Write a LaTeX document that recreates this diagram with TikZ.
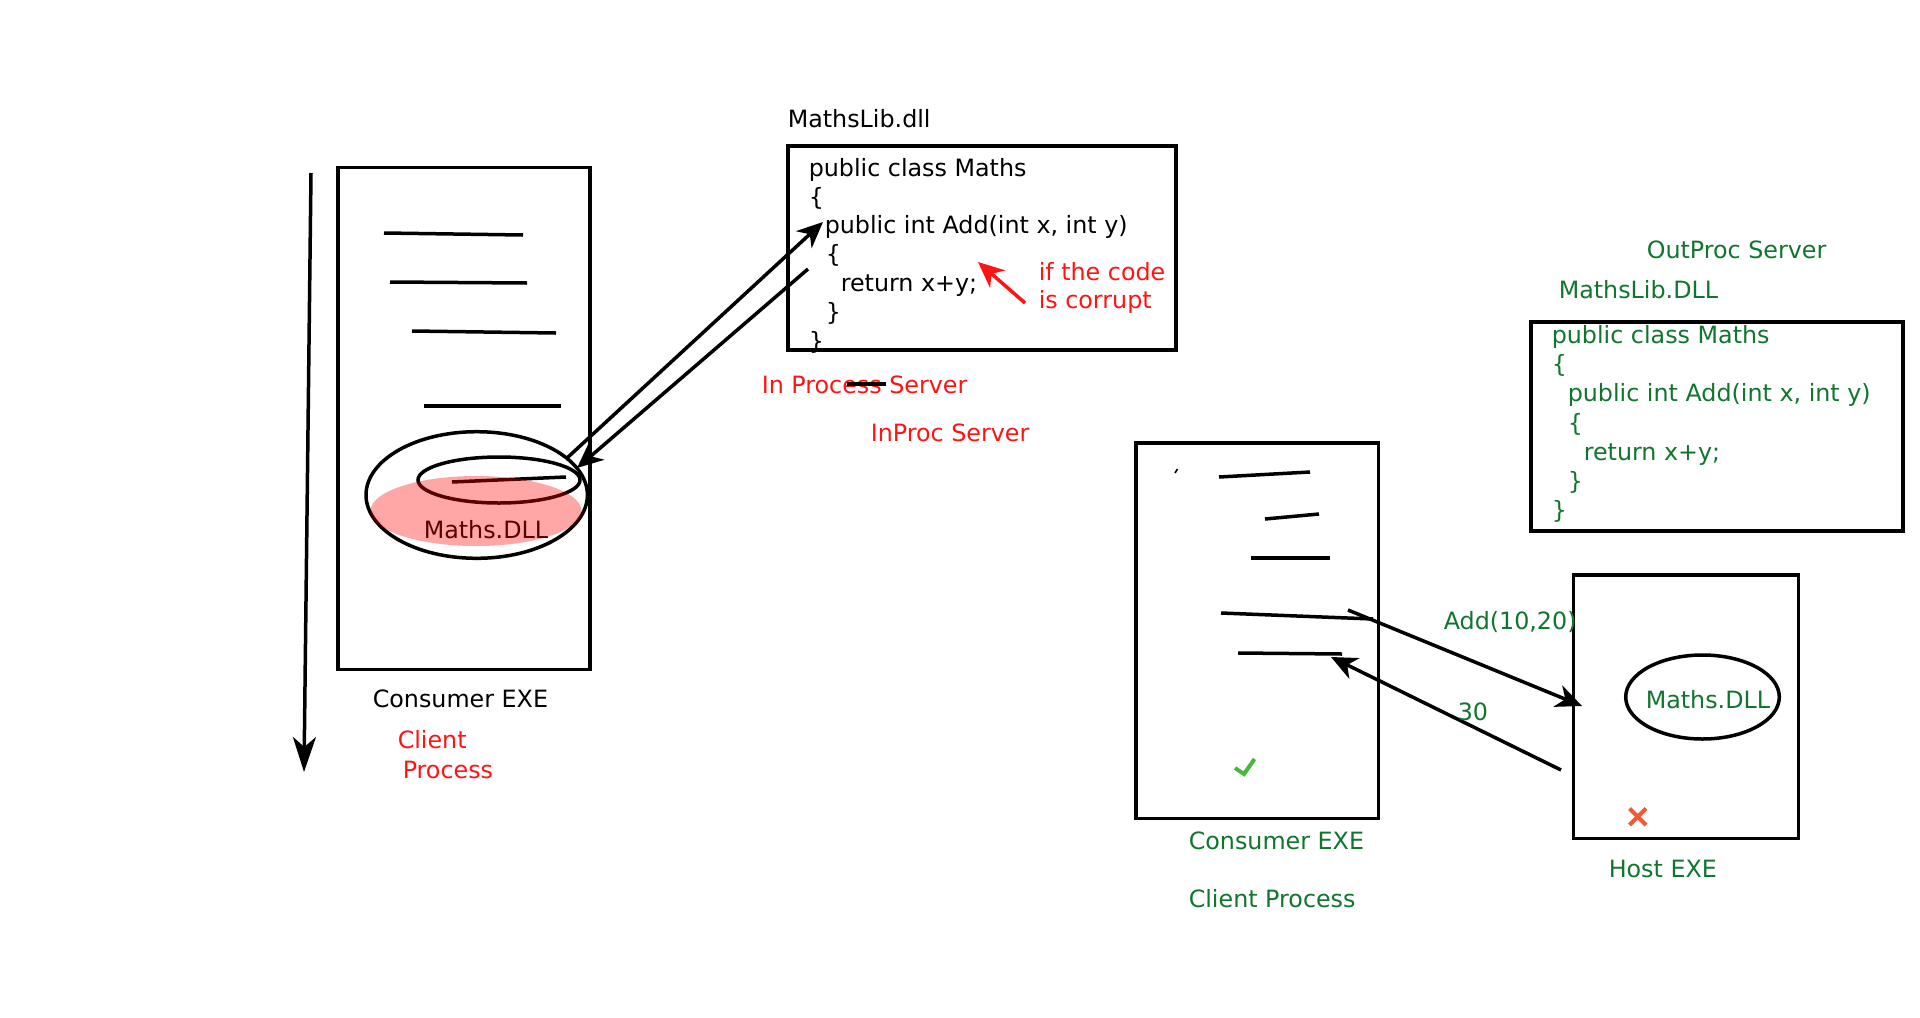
\documentclass[tikz,border=0pt]{standalone}
\usepackage{fontspec}
\setmainfont{DejaVu Sans}
\usetikzlibrary{arrows.meta}
\definecolor{dgreen}{RGB}{16,118,46}
\definecolor{xred}{RGB}{240,90,50}
\definecolor{ckgreen}{RGB}{70,185,60}
\definecolor{tred}{RGB}{255,20,20}
\begin{document}
\begin{tikzpicture}[x=0.5pt,y=-0.5pt,line width=1.75pt,
  txt/.style={anchor=base west,inner sep=0pt,xshift=-1.5pt,font=\fontsize{11.9pt}{14pt}\selectfont},
  rtxt/.style={txt,text=tred},
  gtxt/.style={txt,text=dgreen},
  box/.style={draw=black,line width=1.8pt,rectangle,inner sep=0pt,fill=none},
  arr/.style={-{Stealth[length=13pt,width=11.5pt,inset=4pt]}},
  bigarr/.style={-{Stealth[length=17.5pt,width=11.5pt,inset=5pt]}},
  stroke/.style={line width=1.75pt,line cap=butt}]
\useasboundingbox (0,0) rectangle (1920,1017);

% ---------- left: in-process ----------
\node[box,minimum width=126pt,minimum height=251pt] (cons1) at (464,418.6) {};
\coordinate (tl1) at (311,173); \coordinate (tl2) at (304,772);
\draw[bigarr] (tl1) -- (tl2);

\coordinate (l1a) at (384,233); \coordinate (l1b) at (523,235);
\coordinate (l2a) at (390,282); \coordinate (l2b) at (527,283);
\coordinate (l3a) at (412,331); \coordinate (l3b) at (556,333);
\coordinate (l4a) at (424,406); \coordinate (l4b) at (561,406);
\coordinate (l5a) at (452,482); \coordinate (l5b) at (566,477);
\draw[stroke] (l1a) -- (l1b);
\draw[stroke] (l2a) -- (l2b);
\draw[stroke] (l3a) -- (l3b);
\draw[stroke] (l4a) -- (l4b);
\draw[stroke] (l5a) -- (l5b);

\coordinate (bigE) at (476.7,495);
\coordinate (inE) at (499,480);
\draw (bigE) ellipse [x radius=55.35pt,y radius=31.65pt];
\draw (inE) ellipse [x radius=40.5pt,y radius=11.5pt];
\node[txt] (mdll1) at (425,538) {Maths.DLL};
\fill[red,opacity=0.35] (476,511) ellipse [x radius=52.75pt,y radius=17.5pt];

\node[txt] (cexe1) at (374,707) {Consumer EXE};
\node[rtxt] (cli1) at (399,748) {Client};
\node[rtxt] (pro1) at (404,778) {Process};

% ---------- MathsLib.dll box ----------
\node[txt] (mlib) at (789,127) {MathsLib.dll};
\node[box,minimum width=194pt,minimum height=102pt] (libbox) at (982,248) {};
\node[txt] (c1) at (810,176) {public class Maths};
\node[txt] (c2) at (810,205) {\{};
\node[txt] (c3) at (826,233) {public int Add(int x, int y)};
\node[txt] (c4) at (827,262) {\{};
\node[txt] (c5) at (842,291) {return x+y;};
\node[txt] (c6) at (827,320) {\}};
\node[txt] (c7) at (810,349) {\}};

\node[rtxt] (corr1) at (1040,280) {if the code};
\node[rtxt] (corr2) at (1040,308) {is corrupt};
\coordinate (ra) at (1025,303); \coordinate (rb) at (978,262);
\draw[arr,draw=tred,fill=tred] (ra) -- (rb);

\coordinate (aA1) at (567,458); \coordinate (aA2) at (823,222);
\coordinate (aB1) at (808,269); \coordinate (aB2) at (577,468);
\draw[arr] (aA1) -- (aA2);
\draw[arr] (aB1) -- (aB2);

\node[rtxt] (inps) at (763,393) {In Process Server};
\coordinate (bar1) at (847,384); \coordinate (bar2) at (886,384);
\draw[stroke] (bar1) -- (bar2);
\node[rtxt] (inproc) at (872,441) {InProc Server};

% ---------- right: out-of-process ----------
\node[gtxt] (outp) at (1648,258) {OutProc Server};
\node[gtxt] (mlib2) at (1560,298) {MathsLib.DLL};
\node[box,minimum width=186pt,minimum height=104.65pt] (libbox2) at (1716.7,426.35) {};
\node[gtxt] (g1) at (1553,343.3) {public class Maths};
\node[gtxt] (g2) at (1553,372.5) {\{};
\node[gtxt] (g3) at (1569,401.7) {public int Add(int x, int y)};
\node[gtxt] (g4) at (1569,431) {\{};
\node[gtxt] (g5) at (1585,460) {return x+y;};
\node[gtxt] (g6) at (1569,489) {\}};
\node[gtxt] (g7) at (1553,518) {\}};

\node[box,minimum width=121.3pt,minimum height=187.8pt] (cons2) at (1257,630.5) {};
\coordinate (tk1) at (1175,473); \coordinate (tk2) at (1177.5,469);
\draw[line width=0.8pt] (tk1) -- (tk2);
\coordinate (m1a) at (1219,477); \coordinate (m1b) at (1310,472);
\coordinate (m2a) at (1265,519); \coordinate (m2b) at (1319,514);
\coordinate (m3a) at (1251,558); \coordinate (m3b) at (1330,558);
\coordinate (m4a) at (1221,613); \coordinate (m4b) at (1373,619);
\coordinate (m5a) at (1238,653); \coordinate (m5b) at (1342,654);
\draw[stroke] (m1a) -- (m1b);
\draw[stroke] (m2a) -- (m2b);
\draw[stroke] (m3a) -- (m3b);
\draw[stroke] (m4a) -- (m4b);
\draw[stroke] (m5a) -- (m5b);

\coordinate (ck1) at (1235,768); \coordinate (ck2) at (1244,774); \coordinate (ck3) at (1254.5,759);
\draw[ckgreen,line width=2pt] (ck1) -- (ck2) -- (ck3);

\node[gtxt] (cexe2) at (1190,849) {Consumer EXE};
\node[gtxt] (cli2) at (1190,907) {Client Process};

\node[box,minimum width=112.5pt,minimum height=131.65pt] (host) at (1685.8,706.65) {};
\coordinate (hE) at (1702.5,697);
\draw (hE) ellipse [x radius=38.4pt,y radius=21pt];
\node[gtxt] (mdll2) at (1647,708) {Maths.DLL};
\coordinate (x1) at (1629.5,808.5); \coordinate (x2) at (1646,825);
\coordinate (x3) at (1629.5,825); \coordinate (x4) at (1646,808.5);
\draw[xred,line width=2pt] (x1) -- (x2) (x3) -- (x4);
\node[gtxt] (hexe) at (1610,877) {Host EXE};

\coordinate (ad1) at (1348,610); \coordinate (ad2) at (1582,706);
\draw[arr] (ad1) -- (ad2);
\coordinate (rt1) at (1561,770); \coordinate (rt2) at (1331,657);
\draw[arr] (rt1) -- (rt2);
\node[gtxt] (addl) at (1445,629) {Add(10,20)};
\node[gtxt] (r30) at (1459,720) {30};
\end{tikzpicture}
\end{document}
